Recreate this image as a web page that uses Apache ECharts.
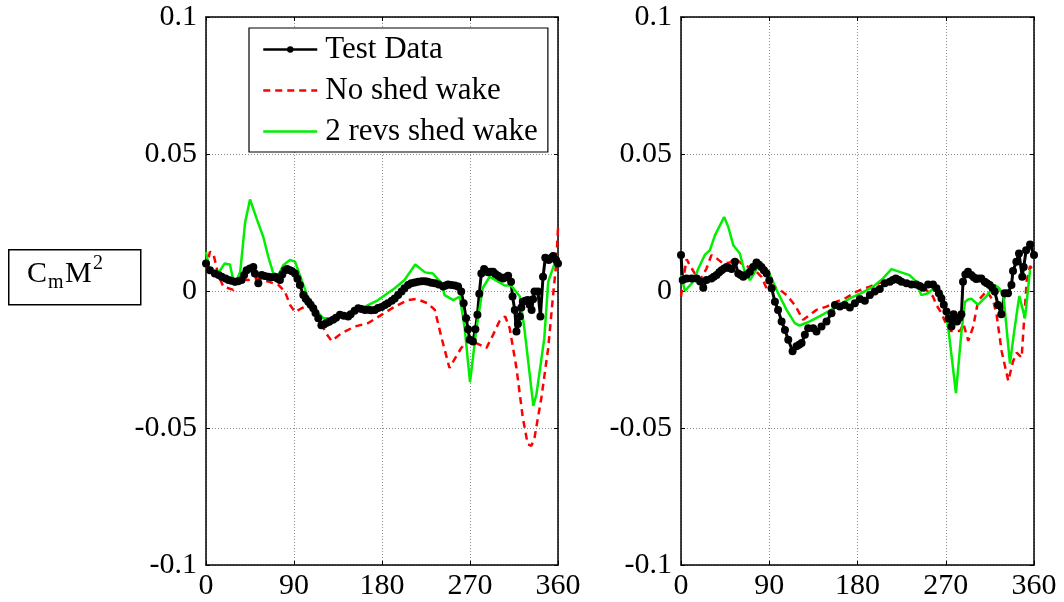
<!DOCTYPE html>
<html><head><meta charset="utf-8">
<script src="https://cdn.jsdelivr.net/npm/echarts@6/dist/echarts.min.js"></script>
<style>html,body{margin:0;padding:0;background:#fff}#c{width:1064px;height:602px}</style>
</head><body><div id="c"></div>
<script>
// ---------- data ----------
const xTicks = [0, 90, 180, 270, 360];
const yTicks = [-0.1, -0.05, 0, 0.05, 0.1];
const seriesNames = ['Test Data', 'No shed wake', '2 revs shed wake'];

// left panel
const leftTest = [[0,0.010],[4,0.0076],[9,0.0064],[13,0.0058],[16,0.0052],[20,0.0046],[23,0.0040],[26,0.0037],[29.6,0.0034],[33,0.0036],[36.4,0.0040],[39,0.0058],[41.5,0.0076],[45,0.0082],[48.4,0.0088],[50,0.0064],[53.5,0.0028],[57,0.0058],[60,0.0055],[63.7,0.0052],[67,0.0050],[70.5,0.0052],[73,0.0046],[75.6,0.0040],[78,0.0060],[80.7,0.0076],[83,0.0080],[85.8,0.0076],[88,0.0072],[91,0.0064],[93.5,0.0045],[96,0.0022],[99.5,-0.0015],[102,-0.0028],[104.6,-0.0039],[107,-0.0050],[109.7,-0.0063],[112,-0.0080],[114.8,-0.0099],[118,-0.0125],[120.5,-0.0122],[123,-0.0117],[126,-0.0112],[130,-0.0105],[133,-0.0098],[137,-0.0087],[141,-0.0090],[145.4,-0.0093],[148,-0.0085],[152,-0.0072],[155.7,-0.0063],[159,-0.0066],[162.5,-0.0069],[166,-0.0068],[169,-0.0070],[172.7,-0.0069],[176,-0.0062],[179.5,-0.0058],[183,-0.0051],[186,-0.0045],[190,-0.0036],[193,-0.0027],[196.5,-0.0015],[200,-0.0002],[203,0.0010],[206.7,0.0022],[210,0.0028],[213.5,0.0031],[217,0.0034],[220.5,0.0036],[224,0.0036],[227,0.0034],[230.5,0.0030],[234,0.0028],[238,0.0024],[242.5,0.0016],[245,0.0020],[247.6,0.0024],[251,0.0022],[254.5,0.0020],[257.8,0.0016],[261,-0.0002],[263.5,-0.0045],[266,-0.0099],[268,-0.0140],[269.7,-0.0178],[273,-0.0184],[275.5,-0.0140],[277.6,-0.0087],[279.5,-0.0010],[281.6,0.0064],[284.4,0.0080],[286.5,0.0072],[288.5,0.0068],[291,0.0070],[293.6,0.0070],[296,0.0062],[298.7,0.0056],[301,0.0050],[303.8,0.0046],[306.5,0.0050],[309,0.0056],[312,0.0034],[313.5,-0.0020],[315.8,-0.0069],[317.5,-0.0148],[319,-0.0120],[321,-0.0093],[322.5,-0.0060],[324,-0.0039],[326.5,-0.0036],[329,-0.0033],[331,-0.0050],[333,-0.0069],[334.5,-0.0030],[336,-0.0002],[339.5,-0.0002],[342,-0.0093],[344.7,0.0052],[347,0.0121],[350.5,0.0113],[353,0.0120],[355,0.0128],[358,0.0113],[360,0.0100]];
const leftNoShed = [[0,0.008],[4,0.0143],[7.5,0.0137],[12.6,0.0058],[17.7,0.0016],[28,0.0004],[33,0.0046],[43,0.0040],[53.5,0.0046],[63.7,0.0034],[74,0.0022],[80.7,-0.0002],[86,-0.0051],[91,-0.0077],[97.7,-0.0063],[106,-0.0051],[114.8,-0.0087],[121.6,-0.0148],[128.4,-0.0182],[138.6,-0.0154],[152,-0.0130],[166,-0.0117],[179.5,-0.0087],[193,-0.0057],[206.7,-0.0033],[215,-0.0029],[227,-0.0045],[234,-0.0069],[241,-0.0172],[249,-0.0281],[254,-0.0250],[261,-0.0208],[269.7,-0.0174],[276.5,-0.0190],[286.8,-0.0208],[293.6,-0.0160],[300,-0.0111],[306,-0.0093],[310.6,-0.0136],[317.5,-0.0281],[324,-0.0462],[329,-0.0559],[332.8,-0.0565],[336,-0.0535],[343,-0.0390],[350,-0.0208],[355,-0.0015],[358,0.0094],[360,0.0228]];
const leftShed = [[0,0.0143],[4,0.0070],[14,0.0073],[19,0.0100],[24.5,0.0097],[29,0.0020],[35,0.0070],[40,0.0250],[45,0.0334],[51.8,0.0264],[58.6,0.0197],[63.7,0.0125],[68.8,0.0064],[74,0.0058],[79,0.0094],[85.8,0.0113],[91,0.0107],[96,0.0058],[104.6,-0.0027],[111.4,-0.0069],[120,-0.0099],[128,-0.0099],[142,-0.0087],[159,-0.0063],[176,-0.0033],[193,0.0010],[203,0.0040],[214,0.0097],[224,0.0068],[232,0.0064],[241,0.0028],[244,-0.0015],[253,-0.0033],[259.5,-0.0020],[264.6,-0.0136],[270,-0.0333],[276.5,-0.0140],[283,0.0010],[290,0.0052],[298.7,0.0034],[305.5,0.0020],[312,0.0020],[321,-0.0020],[326,-0.0148],[334.8,-0.0419],[338,-0.0376],[346,-0.0172],[350,0.0034],[357,0.0105]];

// right panel
const rightTest = [[0,0.0131],[1.7,0.0040],[5.8,0.0046],[10.9,0.0046],[16,0.0046],[19.5,0.0035],[22.7,0.0012],[26,0.0040],[31,0.0046],[33.5,0.0052],[36.3,0.0058],[39,0.0068],[41.4,0.0076],[44,0.0082],[46.5,0.0088],[49,0.0084],[51.6,0.0080],[55,0.0107],[58.4,0.0064],[61,0.0058],[63.5,0.0052],[67,0.0060],[70.3,0.0070],[73.5,0.0088],[77,0.0104],[79.5,0.0096],[82,0.0088],[84.5,0.0076],[87.3,0.0064],[90,0.0038],[92.4,0.0010],[95.8,-0.0039],[99,-0.0069],[102.6,-0.0111],[106,-0.0142],[109.4,-0.0178],[113.8,-0.0220],[117.8,-0.0202],[120.5,-0.0196],[123,-0.0190],[126.3,-0.0160],[129.7,-0.0136],[134.8,-0.0136],[138.2,-0.0148],[143.3,-0.0130],[148.4,-0.0111],[153.5,-0.0081],[157,-0.0051],[162,-0.0057],[167,-0.0051],[172.2,-0.0060],[177.3,-0.0045],[182.4,-0.0029],[187.5,-0.0036],[192.6,-0.0015],[197.6,-0.0002],[202.7,0.0007],[207.8,0.0028],[213,0.0034],[216,0.0040],[219,0.0046],[222,0.0040],[224.8,0.0034],[230,0.0028],[235,0.0024],[240,0.0024],[243.5,0.0018],[247,0.0012],[252,0.0024],[257,0.0024],[260.5,0.0010],[263,-0.0008],[265.6,-0.0027],[268,-0.0050],[270.7,-0.0075],[273,-0.0100],[275.8,-0.0130],[278,-0.0085],[281.5,-0.0111],[284,-0.0098],[286,-0.0085],[287.6,0.0034],[290,0.0060],[292.7,0.0070],[296,0.0058],[298.5,0.0050],[301,0.0044],[303.5,0.0046],[306.3,0.0046],[309.7,0.0034],[312,0.0028],[314.8,0.0022],[317.5,0.0012],[320,-0.0002],[323.3,-0.0051],[326.7,-0.0085],[330,-0.0008],[333.5,-0.0008],[337,0.0022],[338.6,0.0073],[342,0.0107],[344.7,0.0137],[348,0.0052],[349.5,0.0088],[352,0.0149],[356,0.0170],[360,0.0131]];
const rightNoShed = [[0,-0.0020],[2.4,0.0046],[5.8,0.0116],[9,0.0094],[14,0.0064],[19.4,0.0040],[26,0.0082],[31,0.0131],[36.3,0.0119],[43,0.0100],[50,0.0104],[55,0.0119],[61.8,0.0100],[68.6,0.0088],[75.4,0.0076],[82,0.0052],[87.3,0.0010],[92.4,0.0022],[101,0.0004],[107.7,-0.0015],[116,-0.0051],[124.6,-0.0105],[131.4,-0.0087],[138,-0.0069],[148.4,-0.0057],[158.6,-0.0039],[168.8,-0.0024],[179,-0.0002],[192.5,0.0016],[202.7,0.0030],[213,0.0036],[219.7,0.0044],[226.5,0.0034],[236.7,0.0030],[243.5,0.0022],[250,0.0004],[257,-0.0020],[260.5,-0.0051],[265.6,-0.0081],[270.7,-0.0123],[274.3,-0.0146],[284.5,-0.0146],[288,-0.0120],[293,-0.0182],[298,-0.0130],[303,-0.0036],[311.7,0.0000],[318.5,-0.0036],[322,-0.0090],[327,-0.0220],[333.8,-0.0328],[338.6,-0.0257],[342.3,-0.0225],[347.4,-0.0243],[352.5,0.0036],[356,0.0091],[360,0.0070]];
const rightShed = [[0,0.0058],[4,0.0000],[12.6,0.0034],[17.7,0.0082],[24.5,0.0133],[29.5,0.0149],[34.6,0.0203],[44,0.0270],[48.2,0.0234],[53.3,0.0167],[60,0.0137],[65,0.0070],[70.3,0.0040],[75.4,0.0070],[79.8,0.0100],[87.3,0.0080],[92.4,0.0046],[99,-0.0008],[107.7,-0.0069],[116,-0.0117],[121,-0.0126],[131.4,-0.0111],[145,-0.0085],[158.6,-0.0057],[172,-0.0027],[184,-0.0008],[196,0.0016],[206,0.0046],[214.6,0.0080],[223,0.0070],[233,0.0058],[240,0.0034],[245,-0.0015],[252,-0.0008],[260.5,0.0019],[267,-0.0015],[273,-0.0148],[280.4,-0.0373],[286,-0.0150],[289.6,-0.0040],[293,-0.0030],[296,-0.0028],[299.8,-0.0040],[303,-0.0050],[311.4,-0.0020],[320,0.0022],[324,0.0012],[328.7,-0.0012],[335.5,-0.0265],[340,-0.0142],[345,-0.0018],[350.8,-0.0100],[356,0.0079]];

// ---------- styles ----------
const FONT = 'Liberation Serif';
const colTest = '#000000', colNo = '#ff0000', colShed = '#00ee00';

const grids = [
  {left: 206, top: 17, width: 352, height: 548},
  {left: 681, top: 17, width: 353, height: 548}
];

function xAx(gi, pos, labels) {
  return {
    type: 'value', gridIndex: gi, position: pos,
    min: xTicks[0], max: xTicks[xTicks.length - 1], interval: xTicks[1] - xTicks[0],
    axisLine: {show: true, onZero: false, lineStyle: {color: '#000', width: 1.5}},
    axisTick: {show: true, inside: true, length: 4, lineStyle: {color: '#000'}},
    axisLabel: {show: labels, color: '#000', fontFamily: FONT, fontSize: 30, margin: 6},
    splitLine: {show: labels, lineStyle: {color: '#8a8a8a', width: 1, type: [1, 2]}}
  };
}
function yAx(gi, pos, labels) {
  return {
    type: 'value', gridIndex: gi, position: pos,
    min: yTicks[0], max: yTicks[yTicks.length - 1], interval: yTicks[1] - yTicks[0],
    axisLine: {show: true, onZero: false, lineStyle: {color: '#000', width: 1.5}},
    axisTick: {show: true, inside: true, length: 4, lineStyle: {color: '#000'}},
    axisLabel: {show: labels, color: '#000', fontFamily: FONT, fontSize: 30, margin: 9},
    splitLine: {show: labels, lineStyle: {color: '#8a8a8a', width: 1, type: [1, 2]}}
  };
}

function mkSeries(gi, test, no, shed) {
  return [
    {name: seriesNames[0], type: 'line', xAxisIndex: gi * 2, yAxisIndex: gi * 2, data: test,
     symbol: 'circle', symbolSize: 8, showSymbol: true, showAllSymbol: true,
     lineStyle: {color: colTest, width: 3}, itemStyle: {color: colTest}},
    {name: seriesNames[1], type: 'line', xAxisIndex: gi * 2, yAxisIndex: gi * 2, data: no,
     symbol: 'none', lineStyle: {color: colNo, width: 2.5, type: [7, 5]}, itemStyle: {color: colNo}},
    {name: seriesNames[2], type: 'line', xAxisIndex: gi * 2, yAxisIndex: gi * 2, data: shed,
     symbol: 'none', lineStyle: {color: colShed, width: 2.5}, itemStyle: {color: colShed}}
  ];
}

const chart = echarts.init(document.getElementById('c'), null, {renderer: 'canvas'});
chart.setOption({
  animation: false,
  backgroundColor: '#fff',
  grid: grids,
  xAxis: [xAx(0, 'bottom', true), xAx(0, 'top', false), xAx(1, 'bottom', true), xAx(1, 'top', false)],
  yAxis: [yAx(0, 'left', true), yAx(0, 'right', false), yAx(1, 'left', true), yAx(1, 'right', false)],
  legend: {
    data: [
      {name: seriesNames[0]},
      {name: seriesNames[1], itemStyle: {opacity: 0}},
      {name: seriesNames[2], itemStyle: {opacity: 0}}
    ],
    orient: 'vertical', left: 249, top: 28,
    backgroundColor: '#fff', borderColor: '#000', borderWidth: 1.2, borderRadius: 0,
    padding: [6, 10, 5, 13], itemWidth: 54, itemHeight: 8, itemGap: 10,
    lineStyle: {width: 2.5},
    textStyle: {fontFamily: FONT, fontSize: 31, lineHeight: 31, color: '#000', padding: [0, 0, 0, 3]},
    selectedMode: false
  },
  graphic: [
    {type: 'rect', left: 8, top: 249, shape: {width: 132, height: 55}, style: {fill: '#fff', stroke: '#000', lineWidth: 1.5}, z: 10},
    {type: 'text', x: 27, y: 274, z: 11, style: {text: 'C', fontFamily: FONT, fontSize: 30, fill: '#000', verticalAlign: 'middle'}},
    {type: 'text', x: 48, y: 283, z: 11, style: {text: 'm', fontFamily: FONT, fontSize: 20, fill: '#000', verticalAlign: 'middle'}},
    {type: 'text', x: 65, y: 274, z: 11, style: {text: 'M', fontFamily: FONT, fontSize: 30, fill: '#000', verticalAlign: 'middle'}},
    {type: 'text', x: 93, y: 264, z: 11, style: {text: '2', fontFamily: FONT, fontSize: 20, fill: '#000', verticalAlign: 'middle'}}
  ],
  series: [].concat(mkSeries(0, leftTest, leftNoShed, leftShed), mkSeries(1, rightTest, rightNoShed, rightShed))
});
</script>
</body></html>
